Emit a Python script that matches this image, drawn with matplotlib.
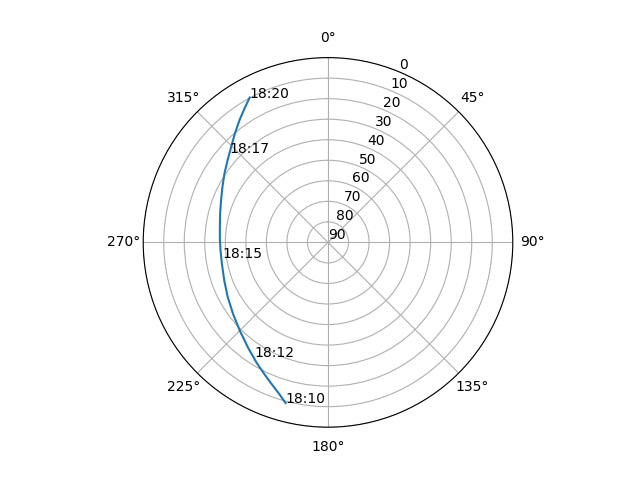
import numpy as np
import matplotlib
matplotlib.use("Agg")
import matplotlib.pyplot as plt

# Lintasan: azimut (derajat) dan elevasi (derajat)
Azimut = [194.8, 198.0, 201.9, 206.0, 210.6, 217.0, 224.9, 233.0, 241.5,
          250.0, 258.8, 265.9, 272.0, 278.2, 285.0, 291.6, 297.5, 303.7,
          309.5, 314.7, 319.5, 324.2, 328.0, 331.6]
Elevasi = [9.1, 12.6, 15.9, 18.9, 21.8, 25.5, 29.2, 32.1, 34.4,
           36.2, 37.3, 37.5, 37.3, 36.8, 35.6, 34.0, 32.0, 29.4,
           26.7, 23.7, 20.2, 16.4, 13.2, 9.8]

# Label waktu dan posisinya
LabelWaktu = ["18:10", "18:12", "18:15", "18:17", "18:20"]
LabelAzimut = [194.8, 212.6, 261.4, 312.3, 331.6]
LabelElevasi = [9.1, 23.6, 38.0, 25.2, 9.8]

fig = plt.figure(figsize=(6.4, 4.8), dpi=100)
ax = fig.add_subplot(111, projection="polar")
ax.set_theta_zero_location("N")
ax.set_theta_direction(-1)

ax.plot(np.radians(Azimut), Elevasi)

for w, a, e in zip(LabelWaktu, LabelAzimut, LabelElevasi):
    ax.text(np.radians(a), e, w)

ax.set_ylim(90, 0)
ax.set_yticks(range(0, 91, 10))

fig.savefig("out.png")
